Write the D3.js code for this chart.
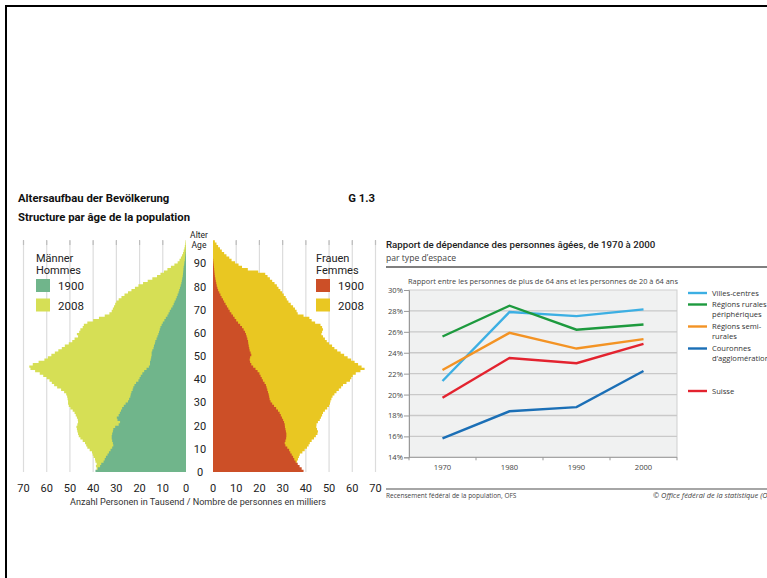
<!DOCTYPE html>
<html>
<head>
<meta charset="utf-8">
<script src="https://cdn.jsdelivr.net/npm/d3@7"></script>
<style>
  body { margin: 0; background: #fff; }
  svg { display: block; }
</style>
</head>
<body>
<svg id="chart" width="767" height="578"></svg>
<script>
// ---- pyramid data (thousands of persons per year of age, ages 0..99) ----
const men1900 = [39,38,37,36.5,35.5,35,34.5,33.8,33.2,32.5,31.8,31.3,31.5,31.8,32,32,31.8,31.5,31.3,30.5,
  29,28.4,29.5,29.8,29,28.5,28,27.5,26.8,26,25,24.5,24,23.8,23.5,23,22.7,22.2,21.5,20.5,
  20,19.5,18.8,18,17,16,15.5,15.5,15.2,15,14.8,14.8,14.5,14,13.8,13.4,13.2,12.7,12.3,11.9,
  11.6,11.3,11,10.5,10,9.3,8.7,8,7.5,7,6.4,5.8,5.3,4.9,4.4,4,3.6,3.2,2.9,2.6,
  2.3,2,1.8,1.6,1.4,1.3,1.2,1.1,1,0.8,0.7,0.5,0.4,0.3,0.2,0.1,0.05,0,0,0];
const men2008 = [38.5,38.5,38.8,38.5,39,39.2,39.8,40.2,40.5,41.5,42.5,43,43.5,44.5,45.5,46.2,46.5,46.8,47,47.2,
  46.8,46.5,46.6,47,47.5,48,48.8,49.8,50.5,50.8,50.8,51,51.2,51.6,52.5,53.8,55.5,56.8,57.8,58.8,
  60,61.5,63,65,67,67.5,66,63.5,61,59.5,58,56.5,55,53.5,52.2,50.5,49,48,46.5,47,
  46,45.5,44.5,44,42.5,40,37.5,35,33,32,31.5,31,30.5,30,29,27.8,26.5,25,23.5,22,
  20.5,18.5,16.5,14.5,12.5,11,9.5,8,6.5,5,3.6,2.8,2.2,1.7,1.3,1,0.7,0.5,0.3,0.2];
const women1900 = [39,38.2,37.3,36.5,35.6,35,34.5,33.9,33.3,32.8,32,31.2,30.9,31.2,31.5,31.6,31.6,31.4,31.2,31,
  30.9,30.6,30.2,29.7,29.2,28.7,28,27.2,26.3,25.5,24.8,24.4,24.2,24,23.7,23.4,23.1,22.8,22.2,21.5,
  21,20.5,20,19.2,18.3,17.3,16.5,16,15.8,16,16.5,16.2,15.8,15.6,15.4,15.2,15.1,14.8,14.5,14.2,
  13.8,13.2,12.5,11.7,10.8,10,9.3,8.6,7.9,7.2,6.6,6,5.4,4.8,4.3,3.7,3.2,2.7,2.2,1.9,
  1.6,1.4,1.2,1,0.8,0.7,0.6,0.5,0.4,0.3,0.2,0.1,0,0,0,0,0,0,0,0];
const women2008 = [36.5,36.2,36,35.9,36.2,36.6,37,37.4,38.5,39.5,40.5,41.2,41.7,42.5,43.5,44.3,45,45.2,44.8,44.5,
  44.6,45.2,46,46.5,47,47.4,48.2,49.2,50,50.4,50.6,51,51.5,52.3,53.2,54.2,55.2,56,57.5,59,
  59.6,60.2,61.5,63.5,65.3,64,62.5,61,59.5,58,56.5,55,53.5,52.3,51.3,50,49,48.2,47.4,46.7,
  47,47.4,47,46.3,44,42.5,41.5,39,36.5,36,35.3,34.5,33.5,32.5,31.8,31.3,30.5,29.8,29,28.2,
  27.5,26.5,25.5,24.5,23.5,22.5,19.5,15,12.5,11,9.5,8,7,5.8,4.8,3.8,3,2.2,1.5,0.8];
const ageTicks = [0,10,20,30,40,50,60,70,80,90];
const valueTicks = [0,10,20,30,40,50,60,70];

// ---- dependency ratio data (%) ----
const years = [1970, 1980, 1990, 2000];
const seriesNames = ["Villes-centres", "Régions rurales périphériques", "Régions semi-rurales",
  "Couronnes d'agglomération", "Suisse"];
const villesCentres = [21.3, 27.9, 27.5, 28.15];
const regionsRurales = [25.55, 28.5, 26.2, 26.7];
const regionsSemiRurales = [22.35, 25.9, 24.4, 25.3];
const couronnes = [15.8, 18.4, 18.8, 22.25];
const suisse = [19.7, 23.5, 23.0, 24.85];
const pctTicks = [14,16,18,20,22,24,26,28,30];

const svg = d3.select("#chart");
const pyrFont = "Roboto, 'Liberation Sans', sans-serif";
const lineFont = "'Open Sans', Roboto, sans-serif";

// page frame
svg.append("line").attr("x1", 5).attr("x2", 767).attr("y1", 6).attr("y2", 6)
  .attr("stroke", "#000").attr("stroke-width", 2);
svg.append("line").attr("x1", 6).attr("x2", 6).attr("y1", 5).attr("y2", 578)
  .attr("stroke", "#000").attr("stroke-width", 2);

// ================= population pyramid =================
const yAge = d3.scaleLinear().domain([0, 100]).range([472, 240.3]);
const xL = d3.scaleLinear().domain([0, 70]).range([186, 23.5]);
const xR = d3.scaleLinear().domain([0, 70]).range([213, 375.5]);

svg.append("text").attr("x", 18).attr("y", 202).text("Altersaufbau der Bevölkerung")
  .style("font-family", pyrFont).style("font-weight", "bold").style("font-size", "11.3px").attr("fill", "#111");
svg.append("text").attr("x", 18).attr("y", 221).text("Structure par âge de la population")
  .style("font-family", pyrFont).style("font-weight", "bold").style("font-size", "11.3px").attr("fill", "#111");
svg.append("text").attr("x", 375).attr("y", 202).attr("text-anchor", "end").text("G 1.3")
  .style("font-family", pyrFont).style("font-weight", "bold").style("font-size", "11.3px").attr("fill", "#111");

// vertical grid
[xL, xR].forEach(x => {
  svg.append("g").selectAll("line").data(valueTicks.slice(1)).join("line")
    .attr("x1", d => x(d)).attr("x2", d => x(d))
    .attr("y1", 241).attr("y2", yAge(0))
    .attr("stroke", "#dcdcdc").attr("stroke-width", 1.2);
  svg.append("g").selectAll("line").data(valueTicks.slice(1)).join("line")
    .attr("x1", d => x(d)).attr("x2", d => x(d))
    .attr("y1", 240).attr("y2", 245)
    .attr("stroke", "#bdbdbd").attr("stroke-width", 1.2);
});

function stepPoints(vals) {
  const pts = [];
  vals.forEach((v, a) => { pts.push([v, a]); pts.push([v, a + 1]); });
  return pts;
}
function drawPyr(vals, x, color) {
  const area = d3.area()
    .y(d => yAge(d[1]))
    .x0(x(0))
    .x1(d => x(d[0]));
  svg.append("path").datum(stepPoints(vals)).attr("d", area).attr("fill", color);
}
drawPyr(men2008, xL, "#d6df55");
drawPyr(men1900, xL, "#70b58b");
drawPyr(women2008, xR, "#e9c722");
drawPyr(women1900, xR, "#cc4f27");

// age labels
svg.append("g").selectAll("text").data(ageTicks).join("text")
  .attr("x", 200).attr("y", d => yAge(d) + 4)
  .attr("text-anchor", "middle").text(d => d)
  .style("font-family", pyrFont).style("font-size", "11px").attr("fill", "#222");
svg.append("text").attr("x", 199).attr("y", 238).attr("text-anchor", "middle").text("Alter")
  .style("font-family", pyrFont).style("font-size", "8.5px").attr("fill", "#222");
svg.append("text").attr("x", 199).attr("y", 247.5).attr("text-anchor", "middle").text("Age")
  .style("font-family", pyrFont).style("font-size", "8.5px").attr("fill", "#222");

// value axes
[xL, xR].forEach(x => {
  svg.append("g").selectAll("text").data(valueTicks).join("text")
    .attr("x", d => x(d)).attr("y", 492).attr("text-anchor", "middle").text(d => d)
    .style("font-family", pyrFont).style("font-size", "11px").attr("fill", "#222");
});
svg.append("text").attr("x", 198).attr("y", 505).attr("text-anchor", "middle")
  .text("Anzahl Personen in Tausend / Nombre de personnes en milliers")
  .style("font-family", pyrFont).style("font-size", "9.1px").attr("fill", "#333");

// pyramid legends
function pyrLegend(x0, t1, t2, c1900, c2008) {
  const g = svg.append("g").style("font-family", pyrFont).attr("fill", "#222");
  g.append("text").attr("x", x0).attr("y", 261.5).text(t1).style("font-size", "11px");
  g.append("text").attr("x", x0).attr("y", 273.5).text(t2).style("font-size", "11px");
  g.append("rect").attr("x", x0).attr("y", 279).attr("width", 14).attr("height", 13).attr("fill", c1900);
  g.append("rect").attr("x", x0).attr("y", 298.5).attr("width", 14).attr("height", 13).attr("fill", c2008);
  g.append("text").attr("x", x0 + 22).attr("y", 290).text("1900").style("font-size", "11.5px");
  g.append("text").attr("x", x0 + 22).attr("y", 309.5).text("2008").style("font-size", "11.5px");
}
pyrLegend(36, "Männer", "Hommes", "#70b58b", "#d6df55");
pyrLegend(316, "Frauen", "Femmes", "#cc4f27", "#e9c722");

// ================= dependency ratio chart =================
const x = d3.scaleBand().domain(years).range([409, 677]).padding(0);
const y = d3.scaleLinear().domain([14, 30]).range([457.3, 290]);
const cx = d => x(d) + x.bandwidth() / 2;

svg.append("text").attr("x", 386).attr("y", 248)
  .text("Rapport de dépendance des personnes âgées, de 1970 à 2000")
  .style("font-family", "Roboto, sans-serif").style("font-weight", "500").style("font-size", "9.7px").attr("fill", "#222");
svg.append("text").attr("x", 386).attr("y", 261).text("par type d’espace")
  .style("font-family", lineFont).style("font-size", "8.6px").attr("fill", "#444");
svg.append("line").attr("x1", 386).attr("x2", 767).attr("y1", 267).attr("y2", 267)
  .attr("stroke", "#555").attr("stroke-width", 1.6);

svg.append("text").attr("x", 408).attr("y", 284)
  .text("Rapport entre les personnes de plus de 64 ans et les personnes de 20 à 64 ans")
  .style("font-family", lineFont).style("font-size", "7.4px").attr("fill", "#444");

svg.append("rect").attr("x", 409).attr("y", y(30)).attr("width", 677 - 409).attr("height", y(14) - y(30))
  .attr("fill", "#f0f1f1").attr("stroke", "#cfcfcf").attr("stroke-width", 1);

// horizontal grid
svg.append("g").selectAll("line").data(pctTicks.slice(1, -1)).join("line")
  .attr("x1", 409).attr("x2", 677).attr("y1", d => y(d)).attr("y2", d => y(d))
  .attr("stroke", "#c9c9c9").attr("stroke-width", 1.3);

// y axis
const yAxis = svg.append("g").attr("transform", "translate(409,0)")
  .call(d3.axisLeft(y).tickValues(pctTicks).tickSize(5).tickFormat(d => d + "%"));
yAxis.select(".domain").attr("stroke", "#999");
yAxis.selectAll(".tick line").attr("stroke", "#999");
yAxis.selectAll("text").style("font-family", lineFont).style("font-size", "7.6px").attr("fill", "#444").attr("x", -6);

// x axis
svg.append("line").attr("x1", 409).attr("x2", 677).attr("y1", y(14)).attr("y2", y(14))
  .attr("stroke", "#999").attr("stroke-width", 1);
svg.append("g").selectAll("line").data(years.concat([null])).join("line")
  .attr("x1", d => d === null ? 677 : x(d)).attr("x2", d => d === null ? 677 : x(d))
  .attr("y1", y(14)).attr("y2", y(14) + 3).attr("stroke", "#999");
svg.append("g").selectAll("text").data(years).join("text")
  .attr("x", cx).attr("y", 470).attr("text-anchor", "middle").text(d => d)
  .style("font-family", lineFont).style("font-size", "7.6px").attr("fill", "#444");

const series = [
  { name: seriesNames[0], values: villesCentres, color: "#3cafe3", legend: ["Villes-centres"], ly: 293 },
  { name: seriesNames[1], values: regionsRurales, color: "#1d9a3e", legend: ["Régions rurales", "périphériques"], ly: 304.5 },
  { name: seriesNames[2], values: regionsSemiRurales, color: "#f39324", legend: ["Régions semi-", "rurales"], ly: 326.5 },
  { name: seriesNames[3], values: couronnes, color: "#1b6fb6", legend: ["Couronnes", "d’agglomération"], ly: 348.5 },
  { name: seriesNames[4], values: suisse, color: "#e3232f", legend: ["Suisse"], ly: 391 }
];

const line = d3.line().x((d, i) => cx(years[i])).y(d => y(d));
series.forEach(s => {
  svg.append("path").datum(s.values).attr("d", line)
    .attr("fill", "none").attr("stroke", s.color).attr("stroke-width", 2.4);
  svg.append("line").attr("x1", 688).attr("x2", 707).attr("y1", s.ly).attr("y2", s.ly)
    .attr("stroke", s.color).attr("stroke-width", 2.4);
  s.legend.forEach((t, i) => {
    svg.append("text").attr("x", 712).attr("y", s.ly + 2.6 + i * 9.8).text(t)
      .style("font-family", lineFont).style("font-size", "7.6px").attr("fill", "#333");
  });
});

// footer
svg.append("line").attr("x1", 386).attr("x2", 767).attr("y1", 489).attr("y2", 489)
  .attr("stroke", "#888").attr("stroke-width", 1.4);
svg.append("text").attr("x", 386).attr("y", 497.5).text("Recensement fédéral de la population, OFS")
  .style("font-family", lineFont).style("font-size", "6.5px").attr("fill", "#444");
svg.append("text").attr("x", 653).attr("y", 497.5).text("© Office fédéral de la statistique (OFS)")
  .style("font-family", lineFont).style("font-size", "7.4px").style("font-style", "italic").attr("fill", "#444");
</script>
</body>
</html>
